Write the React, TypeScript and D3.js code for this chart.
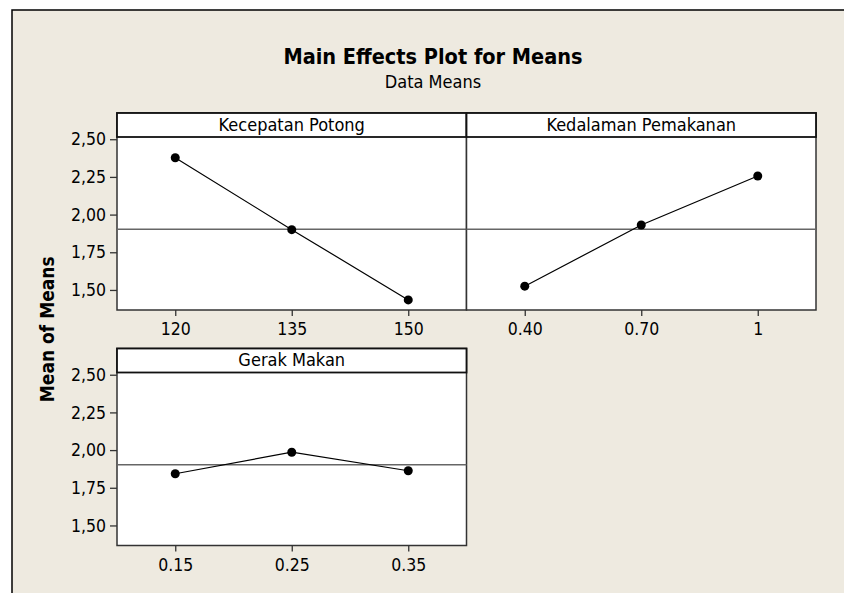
import React, { useEffect, useRef } from 'react';
import * as d3 from 'd3';

// factor names, levels and the mean of means at each level
const factors = ['Kecepatan Potong', 'Kedalaman Pemakanan', 'Gerak Makan'];
const levels = [
    ['120', '135', '150'],
    ['0.40', '0.70', '1'],
    ['0.15', '0.25', '0.35'],
];
const means = [
    [2.377, 1.900, 1.434],
    [1.525, 1.931, 2.256],
    [1.843, 1.986, 1.863],
];
const grandMean = 1.903;
const yTicks = [1.5, 1.75, 2.0, 2.25, 2.5];

const App = () => {
    const svgRef = useRef<SVGSVGElement>(null);

    useEffect(() => {
        const width = 844,
              height = 593,
              panelW = 349.5,
              panelH = 197,
              headerH = 24,
              left = 117,
              tops = [113, 348.5],
              font = '"DejaVu Sans Condensed", "DejaVu Sans", sans-serif';

        const svg = d3.select(svgRef.current)
            .attr('width', width)
            .attr('height', height);
        svg.selectAll('*').remove();

        // background frame
        svg.append('rect').attr('width', width).attr('height', height).attr('fill', '#fff');
        svg.append('rect')
            .attr('x', 12).attr('y', 10)
            .attr('width', width - 12).attr('height', height - 10)
            .attr('fill', '#EEEAE0');
        svg.append('path')
            .attr('d', `M12,${height}V10H${width}`)
            .attr('fill', 'none')
            .attr('stroke', '#000')
            .attr('stroke-width', 1.5);

        // titles
        svg.append('text')
            .attr('x', 433).attr('y', 64)
            .attr('text-anchor', 'middle')
            .style('font-family', font)
            .style('font-weight', 'bold')
            .style('font-size', '21.5px')
            .text('Main Effects Plot for Means');
        svg.append('text')
            .attr('x', 433).attr('y', 88)
            .attr('text-anchor', 'middle')
            .style('font-family', font)
            .style('font-size', '18px')
            .text('Data Means');
        svg.append('text')
            .attr('transform', `translate(54,${(tops[0] + tops[1] + panelH) / 2}) rotate(-90)`)
            .attr('text-anchor', 'middle')
            .style('font-family', font)
            .style('font-weight', 'bold')
            .style('font-size', '19px')
            .text('Mean of Means');

        const positions = [
            {x: left, y: tops[0]},
            {x: left + panelW, y: tops[0]},
            {x: left, y: tops[1]},
        ];

        factors.forEach((name, i) => {
            const {x: px, y: py} = positions[i];

            const xScale = d3.scalePoint<string>()
                .domain(levels[i])
                .range([px, px + panelW])
                .padding(0.5);
            const yScale = d3.scaleLinear()
                .domain([1.367, 2.674])
                .range([py + panelH, py]);

            const g = svg.append('g');

            g.append('rect')
                .attr('x', px).attr('y', py)
                .attr('width', panelW).attr('height', panelH)
                .attr('fill', '#fff')
                .attr('stroke', '#333')
                .attr('stroke-width', 1.5);

            // reference line at the grand mean
            g.append('line')
                .attr('x1', px).attr('x2', px + panelW)
                .attr('y1', yScale(grandMean)).attr('y2', yScale(grandMean))
                .attr('stroke', '#666')
                .attr('stroke-width', 1.5);

            // strip header
            g.append('rect')
                .attr('x', px).attr('y', py)
                .attr('width', panelW).attr('height', headerH)
                .attr('fill', '#fff')
                .attr('stroke', '#111')
                .attr('stroke-width', 1.8);
            g.append('text')
                .attr('x', px + panelW / 2).attr('y', py + 17.5)
                .attr('text-anchor', 'middle')
                .style('font-family', font)
                .style('font-size', '18px')
                .text(name);

            // x axis
            const xAxis = g.append('g')
                .attr('transform', `translate(0,${py + panelH})`)
                .call(d3.axisBottom(xScale).tickSize(6).tickPadding(7));
            xAxis.select('.domain').remove();
            xAxis.selectAll('line').attr('stroke', '#333').attr('stroke-width', 1.3);
            xAxis.selectAll('text')
                .attr('fill', '#000')
                .style('font-family', font)
                .style('font-size', '17.5px');

            // y axis only on the left column
            if (px === left) {
                const yAxis = g.append('g')
                    .attr('transform', `translate(${px},0)`)
                    .call(d3.axisLeft(yScale)
                        .tickValues(yTicks)
                        .tickSize(7)
                        .tickPadding(4)
                        .tickFormat(d => d3.format('.2f')(d as number).replace('.', ',')));
                yAxis.select('.domain').remove();
                yAxis.selectAll('line').attr('stroke', '#333').attr('stroke-width', 1.3);
                yAxis.selectAll('text')
                    .attr('fill', '#000')
                    .style('font-family', font)
                    .style('font-size', '17.5px');
            }

            const points = levels[i].map((lv, j) => ({x: xScale(lv) as number, y: yScale(means[i][j])}));

            g.append('path')
                .attr('d', d3.line<{x: number, y: number}>().x(d => d.x).y(d => d.y)(points))
                .attr('fill', 'none')
                .attr('stroke', '#000')
                .attr('stroke-width', 1.2);

            g.selectAll('circle.pt')
                .data(points)
                .enter()
                .append('circle')
                .attr('class', 'pt')
                .attr('cx', d => d.x)
                .attr('cy', d => d.y)
                .attr('r', 4.5)
                .attr('fill', '#000');
        });
    }, []);

    return (
        <svg ref={svgRef} style={{position: 'absolute', left: 0, top: 0}}></svg>
    );
};

export default App;
